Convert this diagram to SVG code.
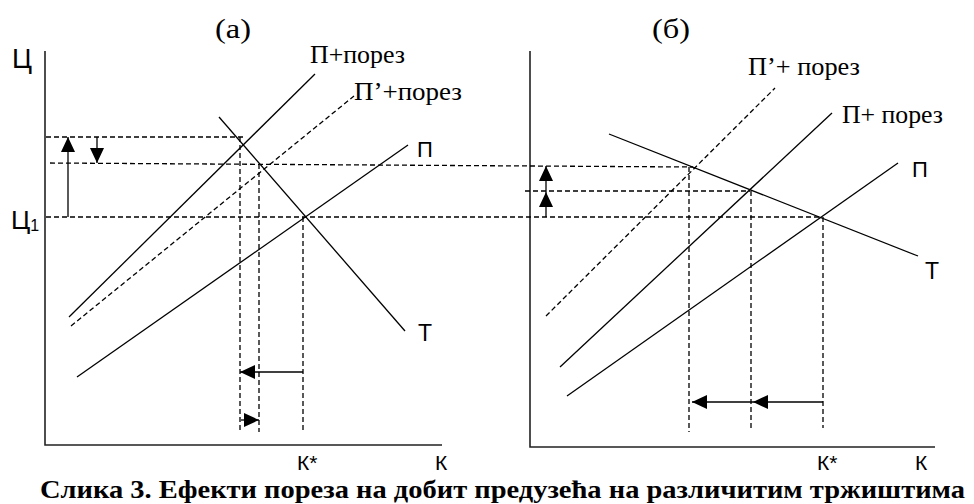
<svg xmlns="http://www.w3.org/2000/svg" width="974" height="504" viewBox="0 0 974 504">
<style>
.ax{stroke:#222;stroke-width:1.6;fill:none}
.ln{stroke:#000;stroke-width:1.3;fill:none}
.dl{stroke:#000;stroke-width:1.3;fill:none;stroke-dasharray:5 3}
.ar{stroke:#000;stroke-width:1.3;fill:none;marker-end:url(#ah)}
.sf{font-family:"Liberation Serif","Times New Roman",serif;fill:#000}
.ss{font-family:"Liberation Sans",Arial,sans-serif;fill:#000}
</style>
<defs>
<marker id="ah" markerUnits="userSpaceOnUse" markerWidth="16" markerHeight="14" refX="15" refY="7" orient="auto">
<path d="M0,0 L15,7 L0,14 z" fill="#000"/>
</marker>
</defs>
<rect width="974" height="504" fill="#fff"/>
<g id="axes">
<path class="ax" d="M45,51 V445 H442"/>
<path class="ax" d="M530,51 V447 H935"/>
</g>
<g id="guides">
<path class="dl" d="M46,137 H243"/>
<path class="dl" d="M50,163 L693,167"/>
<path class="dl" d="M46,217 H822"/>
<path class="dl" d="M525,191 H750"/>
<path class="dl" d="M240,137 V432"/>
<path class="dl" d="M259,164 V432"/>
<path class="dl" d="M303,217 V432"/>
<path class="dl" d="M689,167 V432"/>
<path class="dl" d="M751,191 V428"/>
<path class="dl" d="M823,217 V428"/>
</g>
<g id="curves">
<path class="ln" d="M69,317 L315,74"/>
<path class="dl" d="M71,326 L354,96"/>
<path class="ln" d="M77,377 L408,145"/>
<path class="ln" d="M219,117 L405,331"/>
<path class="ln" d="M609,134 L918,256"/>
<path class="dl" d="M546,316 L775,88"/>
<path class="ln" d="M560,367 L832,113"/>
<path class="ln" d="M567,396 L898,163"/>
</g>
<g id="connectors">
<path class="ar" d="M68,217 V137"/>
<path class="ar" d="M97,137 V163"/>
<path class="ar" d="M303,372 H240"/>
<path class="ar" d="M241,420 H259"/>
<path class="ar" d="M546,217 V192"/>
<path class="ar" d="M546,192 V166"/>
<path class="ar" d="M823,402 H753"/>
<path class="ar" d="M753,402 H692"/>
</g>
<g id="labels">
<text class="sf" x="215" y="38" font-size="28" textLength="36" lengthAdjust="spacingAndGlyphs">(а)</text>
<text class="sf" x="652" y="38" font-size="28" textLength="38" lengthAdjust="spacingAndGlyphs">(б)</text>
<text class="ss" x="12" y="68" font-size="27">Ц</text>
<text class="ss" x="11" y="229" font-size="26">Ц<tspan font-size="16" dy="2">1</tspan></text>
<text class="sf" x="310" y="63" font-size="25" textLength="95" lengthAdjust="spacingAndGlyphs">П+порез</text>
<text class="sf" x="354" y="100" font-size="25" textLength="108" lengthAdjust="spacingAndGlyphs">П’+порез</text>
<text class="ss" x="417" y="157" font-size="22">П</text>
<text class="ss" x="418" y="341" font-size="23">Т</text>
<text class="sf" x="748" y="75" font-size="25" textLength="112" lengthAdjust="spacingAndGlyphs">П’+ порез</text>
<text class="sf" x="842" y="123" font-size="25" textLength="101" lengthAdjust="spacingAndGlyphs">П+ порез</text>
<text class="ss" x="912" y="177" font-size="22">П</text>
<text class="ss" x="925" y="279" font-size="23">Т</text>
<text class="ss" x="297" y="470" font-size="21">К*</text>
<text class="ss" x="435" y="470" font-size="21">К</text>
<text class="ss" x="817" y="470" font-size="21">К*</text>
<text class="ss" x="915" y="470" font-size="21">К</text>
<text class="sf" x="40" y="498" font-size="25" font-weight="bold" textLength="925" lengthAdjust="spacingAndGlyphs">Слика 3. Ефекти пореза на добит предузећа на различитим тржиштима</text>
</g>
</svg>
